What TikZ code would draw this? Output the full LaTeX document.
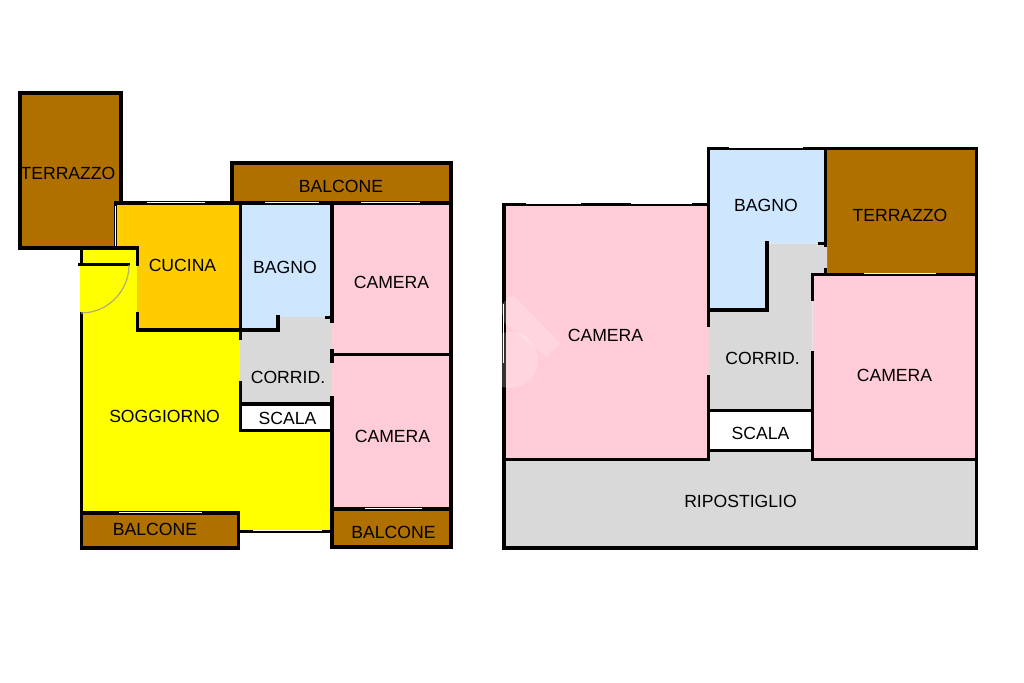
\documentclass[tikz,border=0pt]{standalone}
\usepackage{fontspec}
\setmainfont{Liberation Sans}
\definecolor{brownroom}{RGB}{176,112,0}
\definecolor{kitchen}{RGB}{255,204,0}
\definecolor{livingroom}{RGB}{255,255,0}
\definecolor{bedroom}{RGB}{255,204,215}
\definecolor{bathroom}{RGB}{207,230,255}
\definecolor{hallway}{RGB}{217,217,217}
\definecolor{doorarc}{RGB}{175,175,110}
\tikzset{
  wall/.style={line width=2.4pt,line cap=rect,line join=miter,black},
  win/.style={line width=0.55pt,white},
  lbl/.style={inner sep=0pt,font=\fontsize{13.2pt}{16pt}\selectfont,text=black}
}
\begin{document}
\begin{tikzpicture}[x=0.75pt,y=-0.75pt]
\useasboundingbox (0,0) rectangle (1024,682);
\fill[white] (0,0) rectangle (1024,682);
% --- left plan: fills
\fill[brownroom] (20,93) rectangle (121,248);
\fill[brownroom] (232,163) rectangle (451,203);
\fill[livingroom] (80,248) -- (137,248) -- (137,330) -- (240,330) -- (240,431) -- (332,431) -- (332,531) -- (80,531) -- cycle;
\fill[brownroom] (81,513) rectangle (239,548);
\fill[brownroom] (332,509) rectangle (451,547);
\fill[kitchen] (116,203) -- (240,203) -- (240,330) -- (137,330) -- (137,248) -- (116,248) -- cycle;
\fill[bathroom] (240,203) -- (332,203) -- (332,317) -- (278,317) -- (278,330) -- (240,330) -- cycle;
\fill[hallway] (278,317) -- (332,317) -- (332,404) -- (240,404) -- (240,330) -- (278,330) -- cycle;
\fill[white] (240,404) rectangle (332,431);
\fill[bedroom] (332,203) rectangle (451,354);
\fill[bedroom] (332,354) rectangle (451,509);
% --- left plan: walls
\draw[wall] (20,93) -- (121,93) -- (121,203);
\draw[wall] (20,93) -- (20,248) -- (137.5,248) -- (137.5,264);
\draw[wall] (115.5,203) -- (115.5,248);
\draw[wall] (115.5,203) -- (232,203);
\draw[wall] (232,203) -- (232,163) -- (451,163) -- (451,547) -- (332,547) -- (332,398);
\draw[wall] (232,203) -- (451,203);
\draw[wall] (137.5,314) -- (137.5,330) -- (240.5,330);
\draw[wall] (240.5,203) -- (240.5,338);
\draw[wall] (240.5,330) -- (278,330) -- (278,317);
\draw[wall] (332,203) -- (332,321);
\draw[wall] (327,317.5) -- (332,317.5);
\draw[wall] (332,351) -- (332,361);
\draw[wall] (332,354.5) -- (451,354.5);
\draw[wall] (240.5,383) -- (240.5,430.5) -- (332,430.5);
\draw[wall] (240.5,404) -- (332,404);
\draw[wall] (81.5,248) -- (81.5,264);
\draw[wall] (80,264.5) -- (128,264.5);
\draw[wall] (81.5,314) -- (81.5,548) -- (238.5,548) -- (238.5,513) -- (81.5,513);
\draw[wall] (238.5,531.5) -- (332,531.5);
\draw[wall] (332,509) -- (451,509);
% --- left plan: windows and door
\draw[win] (147,202) -- (205,202);
\draw[win] (115.5,206) -- (115.5,246);
\draw[win] (265,202) -- (319,202);
\draw[win] (361,202) -- (420,202);
\draw[win] (119,512) -- (202,512);
\draw[win] (253,530.6) -- (322,530.6);
\draw[win] (365,508) -- (422,508);
\draw[doorarc,line width=0.9pt] (129,265) .. controls (129,291.5) and (107.5,313) .. (81,313);
% --- right plan: fills
\fill[bedroom] (504,204.5) rectangle (708.5,459.5);
\fill[bathroom] (708.5,148.5) -- (825.5,148.5) -- (825.5,243.5) -- (767,243.5) -- (767,310) -- (708.5,310) -- cycle;
\fill[brownroom] (826,148.5) rectangle (976.5,274.5);
\fill[hallway] (767,243.5) -- (827,243.5) -- (827,274.5) -- (812.5,274.5) -- (812.5,410) -- (708.5,410) -- (708.5,310) -- (767,310) -- cycle;
\fill[white] (708.5,410) rectangle (812.5,450);
\fill[bedroom] (812.5,274.5) rectangle (976.5,459.5);
\fill[hallway] (504,459.5) rectangle (976.5,548);
\fill[hallway] (708.5,450) rectangle (812.5,460);
% --- right plan: walls
\draw[wall] (504,204.5) -- (708.5,204.5);
\draw[wall] (708.5,148.5) -- (976.5,148.5) -- (976.5,548) -- (504,548) -- (504,204.5);
\draw[wall] (708.5,148.5) -- (708.5,325);
\draw[wall] (708.5,310) -- (767,310) -- (767,243);
\draw[wall] (825.5,148.5) -- (825.5,245);
\draw[wall] (820,243.5) -- (825.5,243.5);
\draw[wall] (825.5,270) -- (825.5,274.5);
\draw[wall] (812.5,299) -- (812.5,274.5) -- (976.5,274.5);
\draw[wall] (708.5,377) -- (708.5,459.5) -- (504,459.5);
\draw[wall] (708.5,410.5) -- (812.5,410.5);
\draw[wall] (708.5,450.5) -- (812.5,450.5);
\draw[wall] (812.5,353) -- (812.5,459.5) -- (976.5,459.5);
% --- right plan: windows
\draw[win] (729,147.6) -- (803,147.6);
\draw[win] (864,273.6) -- (936,273.6);
\draw[win] (526,203.5) -- (581,203.5);
\draw[win] (631,203.5) -- (692,203.5);
\draw[win] (503,304) -- (503,363);
% --- watermark
\fill[white,opacity=0.2] (513,295) -- (560,343) -- (547,357) -- (505,324) -- (500,305) -- cycle;
\fill[white,opacity=0.2] (510,360) circle [radius=28];
% --- labels
\node[lbl] (t1) at (68,173) {TERRAZZO};
\node[lbl] (t2) at (182.5,265.5) {CUCINA};
\node[lbl] (t3) at (285,267) {BAGNO};
\node[lbl] (t4) at (391.5,282.5) {CAMERA};
\node[lbl] (t5) at (341,186) {BALCONE};
\node[lbl] (t6) at (288,377) {CORRID.};
\node[lbl] (t7) at (287.5,418.5) {SCALA};
\node[lbl] (t8) at (164.5,416.5) {SOGGIORNO};
\node[lbl] (t9) at (392.5,436.5) {CAMERA};
\node[lbl] (t10) at (155,529.5) {BALCONE};
\node[lbl] (t11) at (393.5,532.5) {BALCONE};
\node[lbl] (t12) at (605.5,335.5) {CAMERA};
\node[lbl] (t13) at (766,205) {BAGNO};
\node[lbl] (t14) at (900,215) {TERRAZZO};
\node[lbl] (t15) at (762.5,358.5) {CORRID.};
\node[lbl] (t16) at (760.5,433.5) {SCALA};
\node[lbl] (t17) at (894.5,375.5) {CAMERA};
\node[lbl] (t18) at (740.5,501.5) {RIPOSTIGLIO};
\end{tikzpicture}
\end{document}
